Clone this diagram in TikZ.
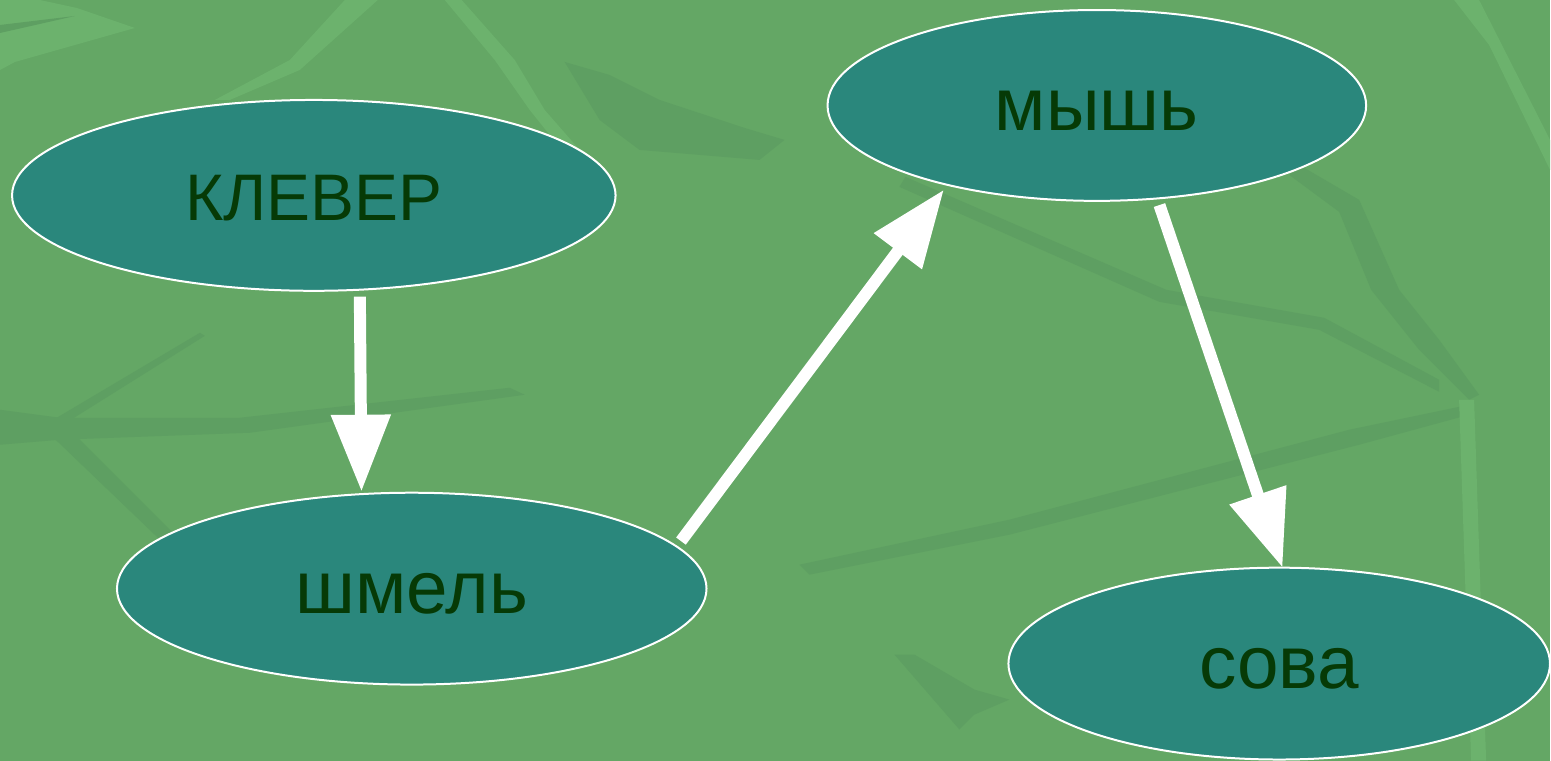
\documentclass[tikz,border=0pt]{standalone}
\usepackage{fontspec}
\setmainfont{Liberation Sans}
\usetikzlibrary{shapes.geometric,arrows.meta}
\definecolor{leafbase}{HTML}{64A765}
\definecolor{leafdark}{HTML}{5E9F62}
\definecolor{leaflight}{HTML}{6CB26D}
\definecolor{nodeteal}{HTML}{2A877C}
\definecolor{textgreen}{HTML}{063A06}
\tikzset{
	animal/.style={ellipse, draw=white, line width=0.04cm, fill=nodeteal, text=textgreen,
		inner sep=0pt, outer sep=0pt, font=\fontsize{37.5}{45}\selectfont,
		text height=28.4pt, text depth=0pt},
	lowcase/.style={font=\fontsize{42.5}{50}\selectfont},
	eats/.style={draw=white, line width=0.24cm, -{Triangle[length=1.54cm,width=1.14cm]}, shorten <=0.14cm}
}

\begin{document}
\begin{tikzpicture}[x=0.02cm, y=-0.02cm]
			%%%%% START %%%%%
			
			\fill[leafbase] (0, 0) rectangle (1551, 761);
			
			\fill[leaflight] (0, 0) -- (40, 0) -- (77, 8) -- (135, 28) -- (15, 62) -- (0, 70) -- cycle;
			\fill[leafdark] (0, 25) -- (75, 16) -- (0, 33) -- cycle;
			\fill[leaflight] (445, 0) -- (462, 0) -- (515, 60) -- (545, 110) -- (615, 190) -- (610, 210) -- (530, 110) -- (495, 60) -- cycle;
			\fill[leaflight] (345, 0) -- (378, 0) -- (300, 70) -- (230, 100) -- (215, 100) -- (290, 60) -- cycle;
			\fill[leafdark] (565, 62) -- (610, 75) -- (660, 100) -- (745, 128) -- (785, 140) -- (760, 160) -- (640, 150) -- (600, 120) -- cycle;
			\fill[leaflight] (1455, 0) -- (1480, 0) -- (1551, 140) -- (1551, 170) -- (1490, 45) -- cycle;
			
			\fill[leafdark] (906, 177) -- (1167, 290) -- (1325, 318) -- (1440, 380) -- (1440, 392) -- (1320, 330) -- (1160, 302) -- (900, 187) -- cycle;
			\fill[leafdark] (1300, 165) -- (1360, 200) -- (1400, 290) -- (1440, 340) -- (1480, 395) -- (1470, 400) -- (1420, 350) -- (1372, 290) -- (1340, 212) -- (1290, 175) -- cycle;
			\fill[leafdark] (800, 565) -- (1010, 520) -- (1350, 430) -- (1470, 405) -- (1470, 415) -- (1360, 445) -- (1010, 535) -- (810, 575) -- cycle;
			\fill[leaflight] (1460, 400) -- (1475, 400) -- (1487, 761) -- (1472, 761) -- cycle;
			
			\fill[leafdark] (0, 410) -- (60, 418) -- (240, 418) -- (510, 388) -- (525, 395) -- (250, 433) -- (60, 440) -- (0, 445) -- cycle;
			\fill[leafdark] (40, 425) -- (60, 420) -- (175, 535) -- (160, 540) -- cycle;
			\fill[leafdark] (45, 425) -- (200, 333) -- (205, 336) -- (55, 430) -- cycle;
			\fill[leafdark] (895, 655) -- (915, 655) -- (975, 690) -- (1010, 700) -- (975, 715) -- (960, 730) -- cycle;
			
			\node[animal, minimum width=12.08cm, minimum height=3.82cm] (klever) at (314, 195.5) {КЛЕВЕР};
			\node[animal, lowcase, minimum width=10.78cm, minimum height=3.82cm] (mysh) at (1097.5, 105.5) {мышь};
			\node[animal, lowcase, minimum width=11.8cm, minimum height=3.84cm] (shmel) at (412, 589) {шмель};
			\node[animal, lowcase, minimum width=10.84cm, minimum height=3.84cm] (sova) at (1280, 664) {сова};
			
			\draw[eats, shorten >=0.05cm] (klever.-64) -- (shmel.118.6);
			\draw[eats, shorten >=0.12cm] (shmel.9.8) -- (mysh.208.95);
			\draw[eats] (mysh.-57.2) -- (sova.88.8);
			
			\useasboundingbox (0, 0) rectangle (1551, 761);
			
			%%%%% END %%%%%
		\end{tikzpicture}
\end{document}
